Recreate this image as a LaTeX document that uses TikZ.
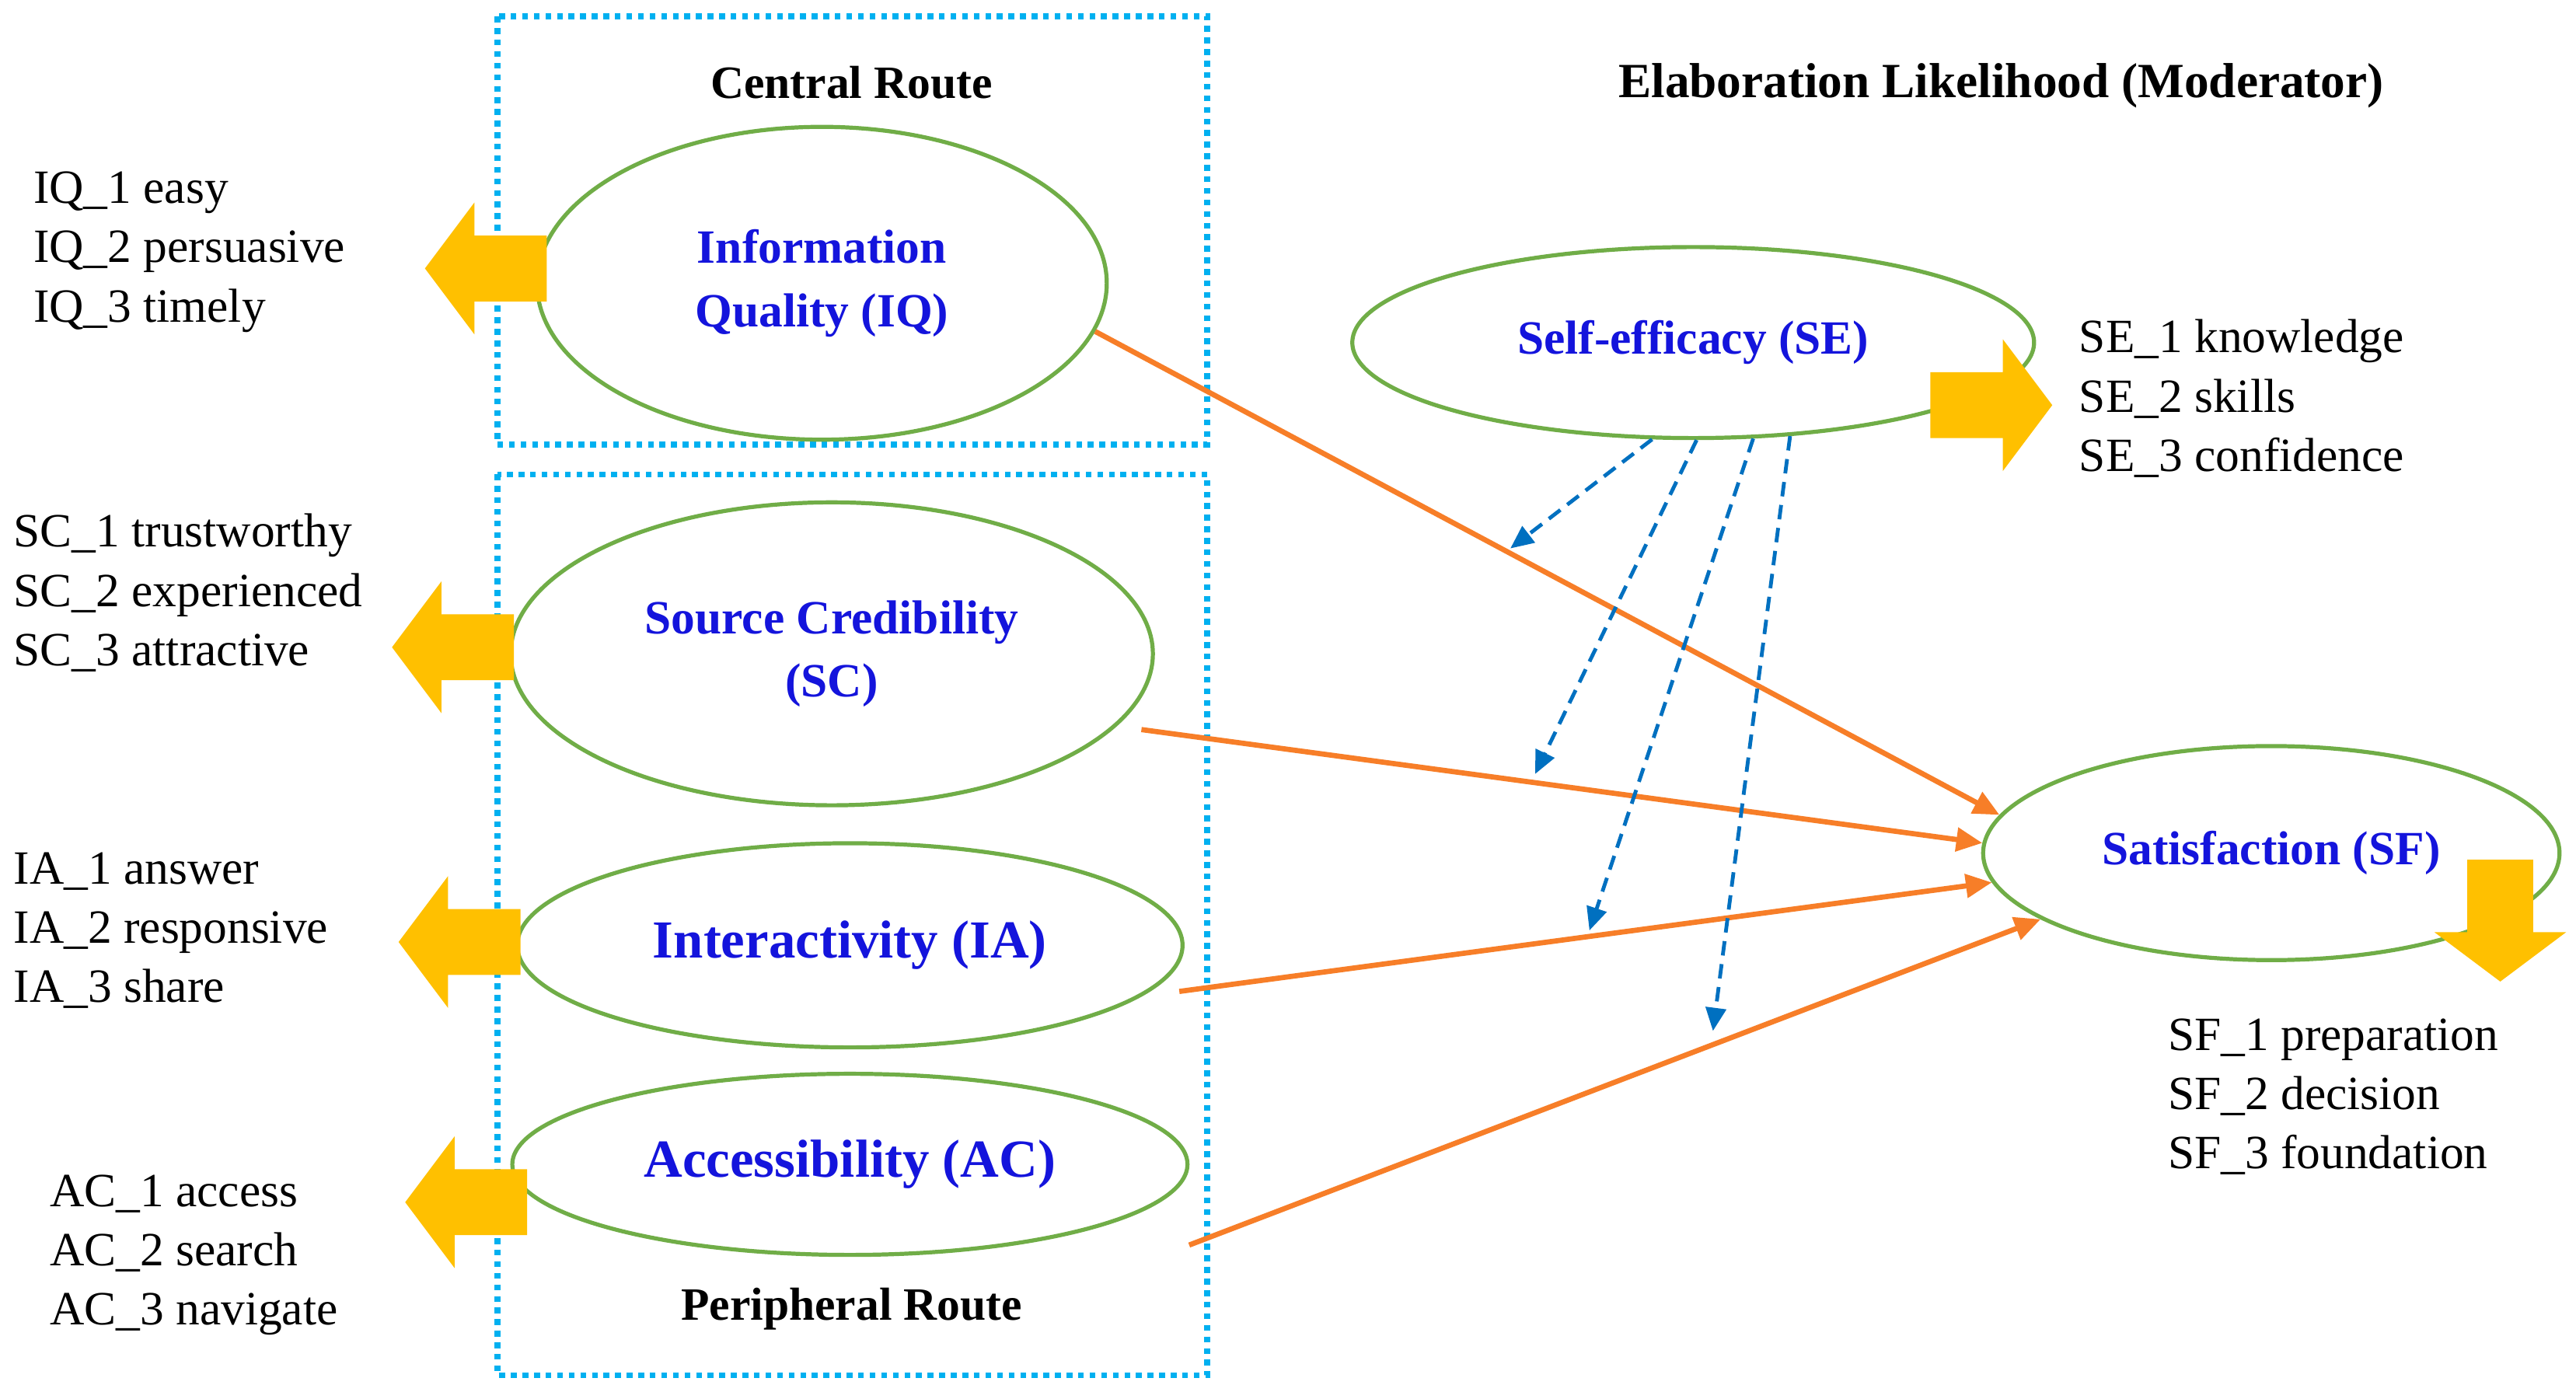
\documentclass[tikz,border=0pt]{standalone}
\usepackage{fontspec}
\setmainfont{Liberation Serif}
\usetikzlibrary{shapes.geometric,arrows.meta}
\definecolor{grn}{RGB}{112,173,71}
\definecolor{cyanb}{RGB}{0,176,240}
\definecolor{ora}{RGB}{247,126,40}
\definecolor{yel}{RGB}{255,192,0}
\definecolor{dblue}{RGB}{0,112,192}
\definecolor{lbl}{RGB}{20,20,220}
\newcommand\yarr[4]{\fill[yel,shift={(#1,#2)},rotate=#3] (0,-20) -- (44,-20) -- (44,-40) -- (74,0) -- (44,40) -- (44,20) -- (0,20) -- cycle; \coordinate (#4) at (#1,#2);}
\begin{document}
\begin{tikzpicture}[x=0.02cm,y=-0.02cm,
 ell/.style={ellipse,draw=grn,line width=1.4pt,inner sep=0pt,text=lbl,font=\fontsize{16.5}{22}\selectfont\bfseries,align=center},
 box/.style={draw=cyanb,line width=2pt,dotted},
 lst/.style={anchor=west,align=left,font=\fontsize{16.5}{20.5}\selectfont,inner sep=0pt},
 oa/.style={draw=ora,line width=1.8pt,-{Triangle[length=9pt,width=8pt]}},
 ba/.style={draw=dblue,line width=1.3pt,dash pattern=on 5pt off 3pt,-{Triangle[length=8pt,width=7pt]}}]
\useasboundingbox[fill=white] (0,0) rectangle (1564,845);
\draw[box] (302,10) rectangle (733,270);
\draw[box] (302,288) rectangle (733,835);
\node[font=\fontsize{16}{18}\selectfont\bfseries] (cr) at (517,50) {Central Route};
\node[font=\fontsize{16}{18}\selectfont\bfseries] (pr) at (517,795) {Peripheral Route};
\node[font=\fontsize{17}{18}\selectfont\bfseries] (ttl) at (1215,52) {Elaboration Likelihood (Moderator)};
\node[ell,minimum width=6.92cm,minimum height=3.8cm] (IQ) at (499,172) {Information\\Quality (IQ)};
\node[ell,minimum width=7.8cm,minimum height=3.68cm] (SC) at (505,397) {Source Credibility\\(SC)};
\node[ell,minimum width=8.08cm,minimum height=2.48cm,font=\fontsize{18.5}{20}\selectfont\bfseries] (IA) at (516,574) {Interactivity (IA)};
\node[ell,minimum width=8.2cm,minimum height=2.2cm,font=\fontsize{18.5}{20}\selectfont\bfseries] (AC) at (516,707) {Accessibility (AC)};
\node[ell,minimum width=8.28cm,minimum height=2.32cm] (SE) at (1028,208) {Self-efficacy (SE)};
\node[ell,minimum width=7cm,minimum height=2.6cm] (SF) at (1379,518) {Satisfaction (SF)};
\yarr{332}{163}{180}{yIQ}
\yarr{312}{393}{180}{ySC}
\yarr{316}{572}{180}{yIA}
\yarr{320}{730}{180}{yAC}
\yarr{1172}{246}{0}{ySE}
\yarr{1518}{522}{-90}{ySF}
\node[lst] (tIQ) at (20,153) {IQ\_1 easy\\IQ\_2 persuasive\\IQ\_3 timely};
\node[lst] (tSC) at (8,360) {SC\_1 trustworthy\\SC\_2 experienced\\SC\_3 attractive};
\node[lst] (tIA) at (8,565) {IA\_1 answer\\IA\_2 responsive\\IA\_3 share};
\node[lst] (tAC) at (30,762) {AC\_1 access\\AC\_2 search\\AC\_3 navigate};
\node[lst] (tSE) at (1262,242) {SE\_1 knowledge\\SE\_2 skills\\SE\_3 confidence};
\node[lst] (tSF) at (1316,666) {SF\_1 preparation\\SF\_2 decision\\SF\_3 foundation};
\coordinate (a2) at (693,443);
\coordinate (a3) at (716,602);
\coordinate (a4) at (722,756);
\draw[oa] (IQ.-10) -- (SF.172);
\draw[oa] (a2) -- (SF.178);
\draw[oa] (a3) -- (SF.-174);
\draw[oa] (a4) -- (SF.-164);
\coordinate (b1) at (917,333);
\coordinate (b2) at (932,470);
\coordinate (b3) at (965,565);
\coordinate (b4) at (1040,626);
\draw[ba] (SE.-113) -- (b1);
\draw[ba] (SE.-88) -- (b2);
\draw[ba] (SE.-58) -- (b3);
\draw[ba] (SE.-44) -- (b4);
\end{tikzpicture}
\end{document}
